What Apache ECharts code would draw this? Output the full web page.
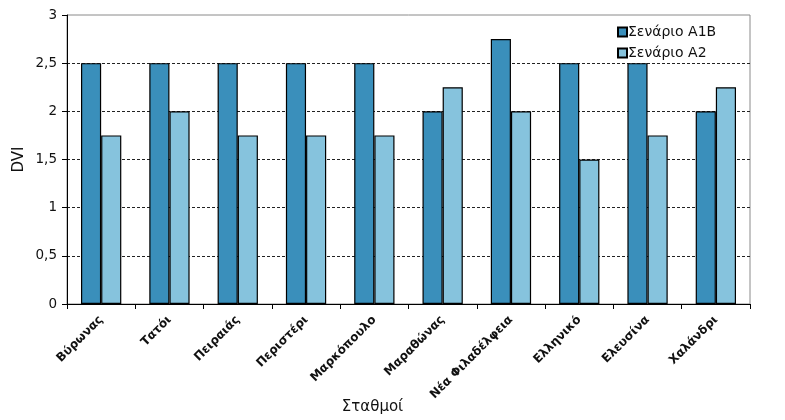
<!DOCTYPE html>
<html><head><meta charset="utf-8">
<script src="https://cdn.jsdelivr.net/npm/echarts@6/dist/echarts.min.js"></script>
<style>html,body{margin:0;padding:0;background:#fff}#c{width:785px;height:420px}</style>
</head><body><div id="c"></div>
<script>
const categories = ['Βύρωνας','Τατόι','Πειραιάς','Περιστέρι','Μαρκόπουλο','Μαραθώνας','Νέα Φιλαδέλφεια','Ελληνικό','Ελευσίνα','Χαλάνδρι'];
const seriesNames = ['Σενάριο A1B','Σενάριο A2'];
const valuesA1B = [2.5, 2.5, 2.5, 2.5, 2.5, 2, 2.75, 2.5, 2.5, 2];
const valuesA2 = [1.75, 2, 1.75, 1.75, 1.75, 2.25, 2, 1.5, 1.75, 2.25];
const font = 'DejaVu Sans';
const chart = echarts.init(document.getElementById('c'), null, {renderer:'canvas'});
chart.setOption({
  animation:false,
  backgroundColor:'#fff',
  textStyle:{fontFamily:font},
  grid:{left:67,right:35,top:15,bottom:116,containLabel:false,outerBoundsMode:'none',
    show:true,borderColor:'#8a8a8a',borderWidth:1,backgroundColor:'transparent'},
  legend:{
    orient:'vertical', left:612, top:20, itemWidth:9, itemHeight:9, itemGap:7,
    icon:'rect',
    textStyle:{fontFamily:font,fontSize:14,color:'#111',padding:[0,0,0,-4]},
    data:seriesNames
  },
  xAxis:{
    type:'category', data:categories,
    name:'Σταθμοί', nameLocation:'middle', nameGap:96, nameMoveOverlap:false,
    nameTextStyle:{fontFamily:font,fontSize:15,color:'#111',padding:[0,72,0,0]},
    axisLine:{lineStyle:{color:'#000',width:1}},
    axisTick:{show:true,alignWithLabel:false,length:5,lineStyle:{color:'#000'}},
    axisLabel:{rotate:45,fontFamily:font,fontSize:12,fontWeight:'bold',color:'#111',margin:14,interval:0}
  },
  yAxis:{
    type:'value', min:0, max:3, interval:0.5,
    name:'DVI', nameLocation:'middle', nameGap:40, nameMoveOverlap:false,
    nameTextStyle:{fontFamily:font,fontSize:15,color:'#111'},
    axisLine:{show:true,lineStyle:{color:'#000',width:1}},
    axisTick:{show:true,length:5,lineStyle:{color:'#000'}},
    axisLabel:{fontFamily:font,fontSize:13.5,color:'#111',margin:10,
      formatter:v=>String(v).replace('.',',')},
    splitLine:{show:true,showMaxLine:false,lineStyle:{color:'#222',type:[3,2],width:1}}
  },
  series:[
    {name:seriesNames[0],type:'bar',data:valuesA1B,barGap:'0%',barCategoryGap:'41%',
     itemStyle:{color:'#3a8fbb',borderColor:'#000',borderWidth:1.2}},
    {name:seriesNames[1],type:'bar',data:valuesA2,barGap:'0%',barCategoryGap:'41%',
     itemStyle:{color:'#86c3dd',borderColor:'#000',borderWidth:1.2}}
  ]
});
</script></body></html>
